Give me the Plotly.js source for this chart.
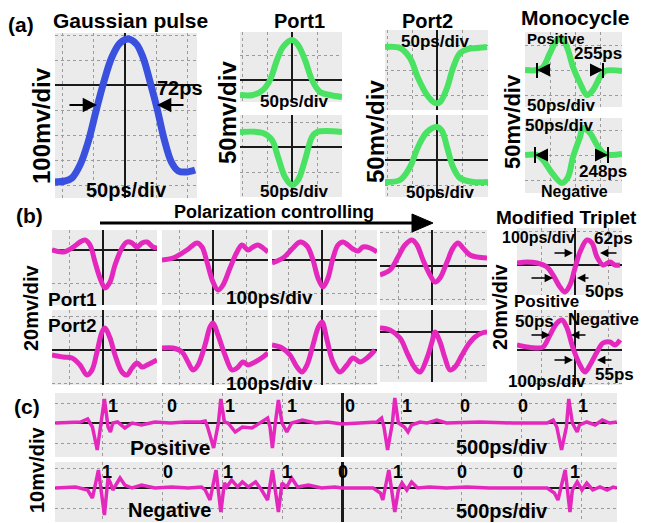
<!DOCTYPE html>
<html><head><meta charset="utf-8">
<script src="https://cdn.plot.ly/plotly-3.0.1.min.js"></script>
<style>html,body{margin:0;padding:0;background:#fff}#chart{width:657px;height:523px}</style>
</head><body><div id="chart"></div>
<script>
// ---------- DATA (time in ps / ns, amplitude in mV) ----------
const gaussT = [-112,-96,-85,-72,-59,-46,-34,-21,-8,5,18,29,40,51,62,74,85,98,112];
const gaussV = [-388,-384,-372,-320,-228,-100,12,112,168,184,164,108,12,-92,-212,-308,-344,-348,-340];

const port1TopT = [-104,-78,-58,-44,-30,-18,0,12,26,40,56,76,100];
const port1TopV = [-30,-30,-20,0,40,66,80,70,40,0,-24,-30,-34];
const port1BotT = [-104,-58,-40,-28,-14,0,12,26,40,50,100];
const port1BotV = [30,28,14,-20,-60,-76,-66,-26,20,30,30];

const port2TopT = [-104,-74,-54,-38,-20,-4,6,20,32,46,62,80,100];
const port2TopV = [46,44,24,-16,-50,-66,-64,-36,4,34,42,44,46];
const port2BotT = [-104,-74,-54,-38,-20,0,10,20,32,46,72,102];
const port2BotV = [-44,-40,-14,26,56,66,58,26,-14,-36,-44,-44];

const monoPosT = [-100,-76,-64,-50,-36,-26,-14,-4,10,24,36,50,60,94];
const monoPosV = [0,0,6,34,60,64,40,6,-26,-50,-40,-14,-2,-2];
const monoNegT = [-100,-76,-64,-46,-26,-14,-4,10,16,30,44,60,94];
const monoNegV = [0,0,-10,-36,-56,-44,-4,36,54,44,20,2,2];

const b11T = [-153,-120,-93,-69,-54,-39,-24,-9,6,21,36,57,72,87,102,117,132,150,162];
const b11V = [0,-1.2,1.2,4.8,6,3,-7.2,-16.8,-22.8,-19.2,-9,1.2,4.8,4.2,1.8,4.2,4.8,1.8,1.2];
const b12T = [-153,-120,-78,-48,-33,-18,0,15,30,51,72,87,105,120,135,150,165];
const b12V = [0,1.2,6,10.2,7.8,-1.2,-13.2,-18,-15,-4.8,4.8,9,6,7.8,9,7.2,4.8];
const b13T = [-150,-117,-87,-66,-45,-27,-12,3,18,33,48,63,78,93,108,123,144,165];
const b13V = [-1.8,1.2,7.2,10.8,8.4,0,-10.8,-16.2,-10.8,1.2,9,10.8,9,6.6,5.4,7.8,7.2,4.8];
const b14T = [-156,-126,-102,-81,-60,-45,-27,-6,9,24,45,63,78,93,114,135,165];
const b14V = [-5.4,-2.4,5.4,12.6,15.6,12.6,3.6,-5.4,-9.6,-7.2,2.4,10.8,13.8,10.8,6.6,5.4,4.8];

const b21T = [-153,-120,-93,-69,-48,-33,-18,-3,6,21,36,57,72,87,102,117,132,150,162];
const b21V = [-3,-4.2,-4.8,-9,-15,-12,-1.2,10.8,13.2,7.2,-3,-13.2,-15,-10.8,-7.8,-10.2,-9,-7.2,-6];
const b22T = [-153,-120,-93,-75,-60,-45,-24,-9,0,15,36,57,72,90,105,126,150,165];
const b22V = [1.2,1.2,-1.2,-7.2,-12,-9,3,13.8,16.2,9,-3,-12,-10.8,-7.2,-9,-7.2,-4.2,-1.8];
const b23T = [-150,-120,-96,-75,-60,-45,-27,-12,0,15,33,54,75,93,114,135,159];
const b23V = [3,1.2,-3,-10.2,-13.2,-9,3,13.2,16.8,6,-7.2,-13.2,-9,-4.8,-7.2,-4.8,0];
const b24T = [-156,-126,-96,-72,-51,-36,-15,0,9,24,39,54,69,90,108,129,150,165];
const b24V = [2.4,1.2,-3.6,-13.8,-21.6,-24,-15.6,-6,0,-6,-15.6,-22.8,-21,-13.8,-7.8,-3,-0.6,0];

const tripPosT = [-174,-144,-114,-84,-66,-45,-30,-15,0,15,36,51,66,84,105,120,135];
const tripPosV = [1.2,1.8,1.2,-1.2,-6,-13.2,-16.2,-12,-1.8,7.8,15,13.2,4.8,0,1.8,0,0];
const tripNegT = [-174,-144,-114,-96,-75,-54,-39,-24,-6,15,30,45,66,84,105,120,135];
const tripNegV = [3,1.8,1.2,1.8,9,16.2,18,13.2,1.2,-9,-13.2,-9,-1.2,4.2,4.8,3,6];

const seqPosT = [-2.39,-2.27,-2.18,-2.12,-2.08,-2.04,-2.01,-1.98,-1.95,-1.93,-1.91,-1.87,-1.81,-1.75,-1.67,-1.56,-1.43,-1.31,-1.18,-1.14,-1.12,-1.07,-1.03,-1.01,-0.98,-0.95,-0.89,-0.83,-0.75,-0.67,-0.62,-0.60,-0.58,-0.56,-0.53,-0.50,-0.46,-0.42,-0.33,-0.22,-0.12,0,0.15,0.29,0.33,0.35,0.38,0.42,0.44,0.47,0.52,0.55,0.58,0.65,0.71,0.79,0.87,1.02,1.15,1.42,1.71,1.76,1.79,1.83,1.87,1.89,1.92,1.96,1.98,2.04,2.11,2.17,2.23,2.29];
const seqPosV = [0,0.5,0.5,2,-2,-13.5,-2,12,-2,-4.5,0,0.5,-2.5,0,-1,0.5,0,0.5,0.5,1,-2,-12.5,0,12,0.5,0,-4.5,-2,-2.5,0.5,2.5,-2,-12.5,-2,11.5,0,-4.5,0,1.5,0,0.5,-0.5,0,0.5,2.5,-2,-13.5,0,12.5,0,-2,-4.5,-1,0.5,0,1.5,0,0.5,0.5,0,0,1.5,-2,-13.5,-2,12,0,-4.5,-1,0.5,-1,1.5,0,0.5];
const seqNegT = [-2.39,-2.22,-2.12,-2.08,-2.06,-2.03,-1.98,-1.95,-1.93,-1.91,-1.85,-1.81,-1.75,-1.67,-1.56,-1.42,-1.28,-1.17,-1.14,-1.10,-1.05,-1.01,-0.98,-0.96,-0.92,-0.87,-0.83,-0.78,-0.72,-0.67,-0.62,-0.58,-0.53,-0.50,-0.46,-0.42,-0.37,-0.28,-0.17,-0.06,0,0.15,0.26,0.32,0.34,0.39,0.44,0.47,0.50,0.54,0.58,0.63,0.73,0.87,1.04,1.23,1.42,1.71,1.77,1.80,1.86,1.90,1.92,1.96,2.00,2.04,2.09,2.15,2.21,2.26,2.29];
const seqNegV = [0,0.5,-1,-5,0.5,9,-13.5,5,2.5,-1,5,1.5,0,1.5,0,0.5,0,0.5,-1,-6,9,-12,2.5,0.5,4,0.5,3,0.5,3,-1,-6,9,-12,2.5,0.5,5,0.5,1.5,0,0.5,0,0,0,-2.5,-6,9,-12,-1,2.5,-1,3,0,0.5,0,0.5,0,0,0,-2.5,-6,9,-12,-1,3,-1,2.5,-1,0.5,-1,0.5,0];

const bitsPos = ['1','0','1','1','0','1','0','0','1'];
const bitsNeg = ['1','0','1','1','0','1','0','0','1'];

// ---------- LAYOUT ----------
const W = 657, H = 523;
const fx = x => x / W, fy = y => 1 - y / H;
const BLUE = 'rgb(58,80,222)', GREEN = 'rgb(74,226,98)', MAG = 'rgb(228,40,190)';
const FONT = 'Liberation Sans, Arial, sans-serif';

const panels = [
  {t:gaussT, v:gaussV, box:[55,197,33,198], xr:[-112,115], yr:[-452,208], dx:50, dy:100, zx:true, zy:true, c:BLUE, w:7},
  {t:port1TopT, v:port1TopV, box:[240,342,32,102], xr:[-104,100], yr:[-44,96], dx:50, dy:50, zx:true, zy:true, c:GREEN, w:6},
  {t:port1BotT, v:port1BotV, box:[240,342,115,197], xr:[-104,100], yr:[-100,64], dx:50, dy:50, zx:true, zy:true, c:GREEN, w:6},
  {t:port2TopT, v:port2TopV, box:[385,488,30,110], xr:[-104,102], yr:[-80,80], dx:50, dy:50, zx:true, zy:false, c:GREEN, w:6},
  {t:port2BotT, v:port2BotV, box:[385,488,115,197], xr:[-104,102], yr:[-74,90], dx:50, dy:50, zx:true, zy:true, c:GREEN, w:6},
  {t:monoPosT, v:monoPosV, box:[525,622,32,107], xr:[-100,94], yr:[-74,76], dx:50, dy:50, zx:false, zy:false, c:GREEN, w:6},
  {t:monoNegT, v:monoNegV, box:[525,622,118,193], xr:[-100,94], yr:[-76,74], dx:50, dy:50, zx:false, zy:false, c:GREEN, w:6},
  {t:b11T, v:b11V, box:[52,157,230,305], xr:[-153,162], yr:[-33,12], dx:100, dy:20, zx:true, zy:true, c:MAG, w:5},
  {t:b12T, v:b12V, box:[162,268,230,305], xr:[-153,165], yr:[-27,18], dx:100, dy:20, zx:true, zy:true, c:MAG, w:5},
  {t:b13T, v:b13V, box:[272,377,230,305], xr:[-150,165], yr:[-27,18], dx:100, dy:20, zx:true, zy:true, c:MAG, w:5},
  {t:b14T, v:b14V, box:[380,487,230,305], xr:[-156,165], yr:[-23.4,21.6], dx:100, dy:20, zx:true, zy:true, c:MAG, w:5},
  {t:b21T, v:b21V, box:[52,157,310,385], xr:[-153,162], yr:[-21,24], dx:100, dy:20, zx:true, zy:true, c:MAG, w:5},
  {t:b22T, v:b22V, box:[162,268,310,385], xr:[-153,165], yr:[-21,24], dx:100, dy:20, zx:true, zy:true, c:MAG, w:5},
  {t:b23T, v:b23V, box:[272,377,310,385], xr:[-150,165], yr:[-21,24], dx:100, dy:20, zx:true, zy:true, c:MAG, w:5},
  {t:b24T, v:b24V, box:[380,487,310,382], xr:[-156,165], yr:[-30,13.2], dx:100, dy:20, zx:true, zy:true, c:MAG, w:5},
  {t:tripPosT, v:tripPosV, box:[517,622,228,295], xr:[-174,141], yr:[-18,22.2], dx:100, dy:20, zx:true, zy:true, c:MAG, w:5},
  {t:tripNegT, v:tripNegV, box:[517,622,310,385], xr:[-174,141], yr:[-21,24], dx:100, dy:20, zx:true, zy:true, c:MAG, w:5},
  {t:seqPosT, v:seqPosV, box:[55,617,393,457], xr:[-2.392,2.292], yr:[-17,15], dx:0.5, dy:10, zx:true, zy:true, c:MAG, w:3.5, s:'linear', zxw:3},
  {t:seqNegT, v:seqNegV, box:[55,617,462,522], xr:[-2.392,2.292], yr:[-17,13], dx:0.5, dy:10, zx:true, zy:true, c:MAG, w:3.5, s:'linear', zxw:3}
];

const data = [];
const layout = {
  width: W, height: H,
  margin: {l:0, r:0, t:0, b:0},
  paper_bgcolor: '#ffffff',
  plot_bgcolor: '#ebebeb',
  showlegend: false,
  font: {family: FONT, color: '#000'},
  annotations: [],
  shapes: []
};

panels.forEach((p, i) => {
  const s = i === 0 ? '' : String(i + 1);
  const common = {showticklabels:false, ticks:'', showline:false, showgrid:true,
    gridcolor:'#9c9c9c', griddash:'dot', gridwidth:1, tick0:0, fixedrange:true,
    zerolinecolor:'#1a1a1a'};
  layout['xaxis' + s] = Object.assign({}, common, {domain:[fx(p.box[0]), fx(p.box[1])],
    range:p.xr, dtick:p.dx, anchor:'y' + s, zeroline:p.zx, zerolinewidth:p.zxw || 1.3});
  layout['yaxis' + s] = Object.assign({}, common, {domain:[fy(p.box[3]), fy(p.box[2])],
    range:p.yr, dtick:p.dy, anchor:'x' + s, zeroline:p.zy, zerolinewidth:1.1});
  data.push({type:'scatter', mode:'lines', x:p.t, y:p.v, xaxis:'x' + s, yaxis:'y' + s,
    line:{color:p.c, width:p.w, shape:p.s || 'spline'}, hoverinfo:'skip'});
});

// text labels: [text, x px, y px, size, angle]
const labels = [
  ['(a)',21,24,21], ['Gaussian pulse',130,21,21], ['72ps',180,88,20],
  ['100mv/div',42,126,24,-90], ['50ps/div',126,190,20],
  ['Port1',299,21,20], ['50ps/div',294,101,17], ['50ps/div',294,191,17], ['50mv/div',228,113,24,-90],
  ['Port2',427,21,20], ['50ps/div',435,42,17], ['50ps/div',440,192,17], ['50mv/div',375,132,24,-90],
  ['Monocycle',575,17,21], ['Positive',556,38,15], ['255ps',598,54,17], ['50ps/div',561,105,17],
  ['50ps/div',559,125,17], ['248ps',603,171,17], ['Negative',574,191,16], ['50mv/div',512,122,22,-90],
  ['(b)',29,215,21], ['Polarization controlling',274,212,18],
  ['Port1',72,299,19], ['Port2',72,325,19], ['100ps/div',269,297,19], ['100ps/div',269,383,19],
  ['20mv/div',31,308,20,-90],
  ['Modified Triplet',566,217,19], ['100ps/div',538,238,16], ['62ps',613,239,17], ['50ps',604,291,17],
  ['Positive',546,301,17], ['50ps',534,321,17], ['Negative',603,319,17], ['55ps',614,374,17],
  ['100ps/div',547,381,17], ['20mv/div',500,307,20,-90],
  ['(c)',27,406,21], ['10mv/div',37,470,20,-90], ['Positive',170,447,21], ['Negative',169,510,20],
  ['500ps/div',502,447,20], ['500ps/div',502,511,20]
];
const bitPosX = [113,172,230,292,350,407,465,523,583];
const bitNegX = [107,168,228,287,343,398,462,518,575];
bitsPos.forEach((b, k) => labels.push([b, bitPosX[k], 406, 18]));
bitsNeg.forEach((b, k) => labels.push([b, bitNegX[k], 472, 18]));

labels.forEach(l => layout.annotations.push({
  text:'<b>' + l[0] + '</b>', xref:'paper', yref:'paper', x:fx(l[1]), y:fy(l[2]),
  xanchor:'center', yanchor:'middle', showarrow:false, textangle:l[4] || 0,
  font:{family:FONT, size:l[3], color:'#000'}
}));

// arrows: [tip x, tip y, tail offset px, width, size]
const arrows = [
  [97,105,-29,2.2,1.3], [157,105,28,2.2,1.3],
  [573,253,-20,1.4,1.2], [600,253,18,1.4,1.2], [553,278,-23,1.4,1.2], [577,278,13,1.4,1.2],
  [550,335,-20,1.4,1.2], [571,335,16,1.4,1.2], [573,360,-20,1.4,1.2], [597,360,16,1.4,1.2],
  [537,70,14,2,1.3], [603,70,-14,2,1.3], [535,155,13,2,1.3], [608,155,-13,2,1.3]
];
arrows.forEach(a => layout.annotations.push({
  text:'', xref:'paper', yref:'paper', x:fx(a[0]), y:fy(a[1]), ax:a[2], ay:0,
  showarrow:true, arrowhead:2, arrowwidth:a[3], arrowsize:a[4], arrowcolor:'#000'
}));

// marker bars of the monocycle width markers
[[537,63,78],[603,63,78],[535,147,163],[608,147,163]].forEach(b => layout.shapes.push({
  type:'line', xref:'paper', yref:'paper', x0:fx(b[0]), x1:fx(b[0]), y0:fy(b[1]), y1:fy(b[2]),
  line:{color:'#000', width:2}
}));

// "Polarization controlling" arrow
layout.shapes.push({type:'line', xref:'paper', yref:'paper', x0:fx(100), x1:fx(416), y0:fy(223), y1:fy(223),
  line:{color:'#000', width:3}});
layout.shapes.push({type:'path', xref:'paper', yref:'paper',
  path:`M ${fx(412)},${fy(214)} L ${fx(433)},${fy(223)} L ${fx(412)},${fy(232)} Z`,
  fillcolor:'#000', line:{color:'#000', width:1}});

Plotly.newPlot('chart', data, layout, {staticPlot:true, displayModeBar:false});
</script>
</body></html>
